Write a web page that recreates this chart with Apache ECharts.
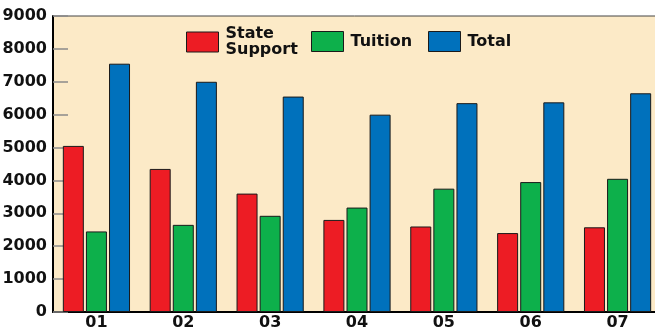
<!DOCTYPE html>
<html>
<head>
<meta charset="utf-8">
<script src="https://cdn.jsdelivr.net/npm/echarts@6/dist/echarts.min.js"></script>
<style>
  html, body { margin: 0; padding: 0; background: #fff; }
  #chart { width: 655px; height: 327px; }
</style>
</head>
<body>
<div id="chart"></div>
<script>
// 年份分类
const years = ["01", "02", "03", "04", "05", "06", "07"];
const stateSupport = [5050, 4350, 3600, 2800, 2600, 2400, 2575];
const tuition = [2450, 2650, 2925, 3175, 3750, 3950, 4050];
const total = [7550, 7000, 6550, 6000, 6350, 6375, 6650];
const yTicks = { min: 0, max: 9000, interval: 1000 };

const FONT = "DejaVu Sans";
const colors = { state: "#ED1C24", tuition: "#0DB04B", total: "#0071BC" };

const chart = echarts.init(document.getElementById("chart"));

const barStyle = (color) => ({
    color: color,
    borderColor: "#1a1a1a",
    borderWidth: 1,
});

const legendFor = (name, left, top, color) => ({
    data: [name],
    left: left,
    top: top,
    padding: 0,
    itemWidth: 32,
    itemHeight: 20,
    icon: "rect",
    selectedMode: false,
    itemStyle: { color: color, borderColor: "#1a1a1a", borderWidth: 1 },
    formatter: (n) => (n === "State Support" ? "State\nSupport" : n),
    textStyle: {
        fontFamily: FONT,
        fontWeight: "bold",
        fontSize: 16,
        lineHeight: 16,
        color: "#111",
        padding: [0, 0, 0, 2],
    },
});

chart.setOption({
    animation: false,
    backgroundColor: "#fff",
    grid: {
        left: 53,
        top: 16,
        bottom: 15,
        width: 608,
        outerBoundsMode: "none",
        show: true,
        backgroundColor: "#FCEAC7",
        borderColor: "#444",
        borderWidth: 1,
    },
    legend: [
        legendFor("State Support", 186, 26, colors.state),
        legendFor("Tuition", 311, 31, colors.tuition),
        legendFor("Total", 428, 31, colors.total),
    ],
    xAxis: {
        type: "category",
        data: years,
        axisLine: { lineStyle: { color: "#000", width: 2 } },
        axisTick: { inside: true, length: 7, lineStyle: { color: "#000", width: 1 } },
        axisLabel: {
            margin: 3,
            fontFamily: FONT,
            fontWeight: "bold",
            fontSize: 16,
            color: "#111",
        },
    },
    yAxis: {
        type: "value",
        min: yTicks.min,
        max: yTicks.max,
        interval: yTicks.interval,
        splitLine: { show: false },
        axisLine: { show: true, lineStyle: { color: "#000", width: 2 } },
        axisTick: { show: true, inside: true, length: 15, lineStyle: { color: "#8a8a8a", width: 1.5 } },
        axisLabel: {
            margin: 6,
            formatter: (v) => String(v),
            fontFamily: FONT,
            fontWeight: "bold",
            fontSize: 16,
            color: "#111",
        },
    },
    series: [
        {
            name: "State Support",
            type: "bar",
            data: stateSupport,
            barWidth: 21,
            barGap: "10%",
            itemStyle: barStyle(colors.state),
        },
        {
            name: "Tuition",
            type: "bar",
            data: tuition,
            barWidth: 21,
            barGap: "10%",
            itemStyle: barStyle(colors.tuition),
        },
        {
            name: "Total",
            type: "bar",
            data: total,
            barWidth: 21,
            barGap: "10%",
            itemStyle: barStyle(colors.total),
        },
    ],
});
</script>
</body>
</html>
